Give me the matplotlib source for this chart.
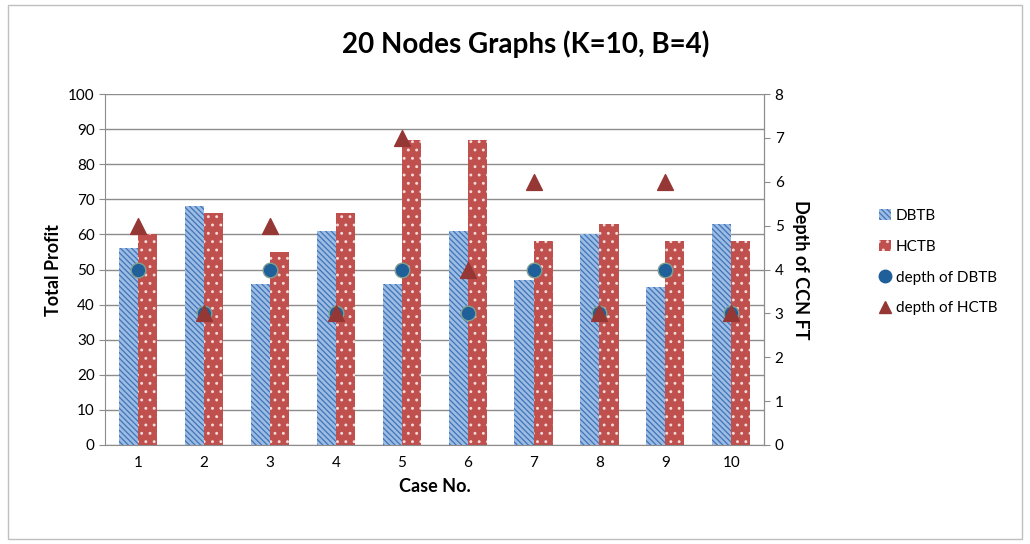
import matplotlib
matplotlib.use("Agg")
import matplotlib.pyplot as plt
import numpy as np
from matplotlib.lines import Line2D
from matplotlib.patches import Patch

plt.rcParams["font.family"] = ["Lato", "DejaVu Sans"]
plt.rcParams["hatch.linewidth"] = 0.9

cases = ["1", "2", "3", "4", "5", "6", "7", "8", "9", "10"]
dbtb = [56, 68, 46, 61, 46, 61, 47, 60, 45, 63]
hctb = [60, 66, 55, 66, 87, 87, 58, 63, 58, 58]
depth_dbtb = [4, 3, 4, 3, 4, 3, 4, 3, 4, 3]
depth_hctb = [5, 3, 5, 3, 7, 4, 6, 3, 6, 3]

blue = "#3F74B8"
light_blue = "#9DBCE4"
red = "#C0504D"
tri_red = "#953735"
dot_blue = "#1F5F9A"
grey = "#8C8C8C"

fig = plt.figure(figsize=(10.3, 5.44), dpi=100)
ax = fig.add_axes([0.102, 0.182, 0.640, 0.645])
x = np.arange(len(cases))
w = 0.29

ax.bar(x - w / 2, dbtb, w, color=light_blue, edgecolor=blue,
       hatch="\\\\\\\\\\\\", linewidth=0, zorder=2)
ax.bar(x + w / 2, hctb, w, color=red, edgecolor="#F2DCDB", hatch="..",
       linewidth=0, zorder=2)

ax.set_ylim(0, 100)
ax.set_yticks(range(0, 101, 10))
ax.set_xlim(-0.5, len(cases) - 0.5)
ax.set_xticks(x)
ax.set_xticklabels(cases)
ax.grid(axis="y", color=grey, linewidth=1.0, zorder=0)
ax.set_axisbelow(True)
ax.spines["top"].set_visible(False)
for s in ["bottom", "left", "right"]:
    ax.spines[s].set_color(grey)
ax.tick_params(axis="y", length=4, color=grey, labelsize=11)
ax.tick_params(axis="x", length=0, labelsize=11, pad=8)
ax.set_ylabel("Total Profit", fontsize=13, fontweight="bold")
ax.set_xlabel("Case No.", fontsize=13, fontweight="bold", labelpad=6)

ax2 = ax.twinx()
ax2.set_ylim(0, 8)
ax2.set_yticks(range(0, 9))
ax2.scatter(x, depth_dbtb, s=110, marker="o", color=dot_blue,
            edgecolor="#7F9F8F", linewidth=1, zorder=3)
ax2.scatter(x, depth_hctb, s=130, marker="^", color=tri_red,
            edgecolor=tri_red, linewidth=1, zorder=4)
for s in ["top", "left", "bottom"]:
    ax2.spines[s].set_visible(False)
ax2.spines["right"].set_color(grey)
ax2.tick_params(axis="y", length=4, color=grey, labelsize=11)
ax2.set_ylabel("Depth of CCN FT", fontsize=13, fontweight="bold",
               rotation=270, labelpad=18)

fig.suptitle("20 Nodes Graphs (K=10, B=4)", x=0.51, y=0.945,
             fontsize=20, fontweight="bold")

handles = [
    Patch(facecolor=light_blue, edgecolor=blue, hatch="\\\\\\\\\\\\", linewidth=0),
    Patch(facecolor=red, edgecolor="#F2DCDB", hatch="..", linewidth=0),
    Line2D([], [], marker="o", linestyle="", color=dot_blue, markersize=9),
    Line2D([], [], marker="^", linestyle="", color=tri_red, markersize=9),
]
labels = ["DBTB", "HCTB", "depth of DBTB", "depth of HCTB"]
fig.legend(handles, labels, loc="center left", bbox_to_anchor=(0.84, 0.518),
           frameon=False, fontsize=11, handlelength=0.8, handletextpad=0.3,
           labelspacing=1.1)

fig.add_artist(plt.Rectangle((0.008, 0.01), 0.984, 0.98, transform=fig.transFigure,
                             fill=False, edgecolor="#BFBFBF", linewidth=1))

fig.savefig("out.png", dpi=100)
